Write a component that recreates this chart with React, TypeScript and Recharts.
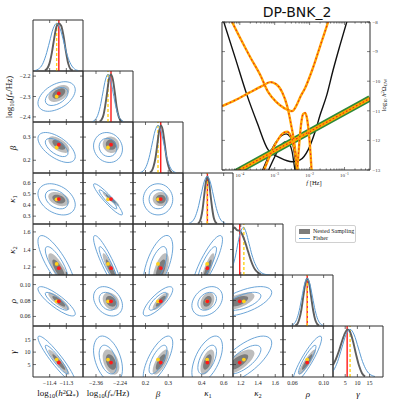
import React from "react";
import { ScatterChart, Scatter, XAxis, YAxis, ReferenceLine } from "recharts";

// parameter order: log10(h²Ω*), log10(f*/Hz), β, κ1, κ2, ρ, γ
const TRUE_VALUES = [-11.345, -2.285, 0.267, 0.452, 1.188, 0.079, 5.8];
const FISHER_VALUES = [-11.358, -2.3, 0.255, 0.45, 1.236, 0.079, 7.0];
const RANGES = [
  [-11.5, -11.2], [-2.425, -2.175], [0.145, 0.365], [0.23, 0.685], [1.11, 1.69], [0.048, 0.112], [0, 20.5],
];
const X_TICKS = [[-11.4, -11.3], [-2.36, -2.24], [0.2, 0.3], [0.4, 0.6], [1.2, 1.4, 1.6], [0.06, 0.1], [5, 10, 15]];
const Y_TICKS = [[], [-2.4, -2.3, -2.2], [0.2, 0.3], [0.3, 0.4, 0.5, 0.6], [1.2, 1.4, 1.6], [0.06, 0.08, 0.1], [5, 10, 15]];
const X_DECIMALS = [1, 2, 1, 1, 1, 2, 0];
const Y_DECIMALS = [1, 1, 1, 1, 1, 2, 0];
const MARGINAL_RANGE = [0, 1.07];

const PAIRS = [
  [0, 1], [0, 2], [0, 3], [0, 4], [0, 5], [0, 6], [1, 2], [1, 3], [1, 4], [1, 5], [1, 6],
  [2, 3], [2, 4], [2, 5], [2, 6], [3, 4], [3, 5], [3, 6], [4, 5], [4, 6], [5, 6],
];

// contour outlines (control points), same order as PAIRS
const FISHER_INNER = [
  [[-11.276, -2.276], [-11.317, -2.247], [-11.399, -2.271], [-11.44, -2.324], [-11.399, -2.353], [-11.317, -2.329]],
  [[-11.276, 0.227], [-11.317, 0.274], [-11.399, 0.302], [-11.44, 0.283], [-11.399, 0.236], [-11.317, 0.208]],
  [[-11.276, 0.414], [-11.317, 0.515], [-11.399, 0.551], [-11.44, 0.486], [-11.399, 0.385], [-11.317, 0.349]],
  [[-11.276, 1.046], [-11.317, 1.265], [-11.399, 1.454], [-11.44, 1.426], [-11.399, 1.208], [-11.317, 1.018]],
  [[-11.276, 0.0675], [-11.317, 0.0795], [-11.399, 0.0909], [-11.44, 0.0905], [-11.399, 0.0785], [-11.317, 0.0671]],
  [[-11.276, 0.56], [-11.317, 5.99], [-11.399, 12.43], [-11.44, 13.45], [-11.399, 8.01], [-11.317, 1.57]],
  [[-2.247, 0.25], [-2.274, 0.294], [-2.327, 0.298], [-2.353, 0.26], [-2.327, 0.217], [-2.274, 0.212]],
  [[-2.247, 0.355], [-2.274, 0.435], [-2.327, 0.53], [-2.353, 0.545], [-2.327, 0.465], [-2.274, 0.37]],
  [[-2.247, 1.023], [-2.274, 1.219], [-2.327, 1.432], [-2.353, 1.449], [-2.327, 1.253], [-2.274, 1.04]],
  [[-2.247, 0.0749], [-2.274, 0.0882], [-2.327, 0.0922], [-2.353, 0.0831], [-2.327, 0.0698], [-2.274, 0.0658]],
  [[-2.247, 4.23], [-2.274, 11.12], [-2.327, 13.9], [-2.353, 9.77], [-2.327, 2.88], [-2.274, 0.11]],
  [[0.302, 0.45], [0.279, 0.539], [0.231, 0.539], [0.208, 0.45], [0.231, 0.362], [0.279, 0.362]],
  [[0.302, 1.378], [0.279, 1.472], [0.231, 1.329], [0.208, 1.094], [0.231, 1.0], [0.279, 1.143]],
  [[0.302, 0.0898], [0.279, 0.0914], [0.231, 0.0806], [0.208, 0.0682], [0.231, 0.0666], [0.279, 0.0774]],
  [[0.302, 11.85], [0.279, 13.72], [0.231, 8.86], [0.208, 2.15], [0.231, 0.28], [0.279, 5.14]],
  [[0.552, 1.438], [0.501, 1.445], [0.399, 1.244], [0.348, 1.035], [0.399, 1.027], [0.501, 1.228]],
  [[0.552, 0.0831], [0.501, 0.0922], [0.399, 0.0882], [0.348, 0.0749], [0.399, 0.0658], [0.501, 0.0698]],
  [[0.552, 10.81], [0.501, 13.92], [0.399, 10.11], [0.348, 3.19], [0.399, 0.08], [0.501, 3.89]],
  [[1.473, 0.0871], [1.355, 0.0925], [1.117, 0.0843], [0.999, 0.0709], [1.117, 0.0655], [1.355, 0.0737]],
  [[1.473, 11.85], [1.355, 13.72], [1.117, 8.86], [0.999, 2.15], [1.117, 0.28], [1.355, 5.14]],
  [[0.0925, 13.24], [0.0858, 12.74], [0.0722, 6.5], [0.0655, 0.76], [0.0722, 1.26], [0.0858, 7.5]],
];

const FISHER_OUTER = [
  [[-11.224, -2.261], [-11.291, -2.213], [-11.425, -2.252], [-11.493, -2.339], [-11.425, -2.387], [-11.291, -2.348]],
  [[-11.224, 0.208], [-11.291, 0.286], [-11.425, 0.332], [-11.493, 0.302], [-11.425, 0.225], [-11.291, 0.178]],
  [[-11.224, 0.391], [-11.291, 0.557], [-11.425, 0.615], [-11.493, 0.509], [-11.425, 0.343], [-11.291, 0.285]],
  [[-11.224, 0.925], [-11.291, 1.283], [-11.425, 1.593], [-11.493, 1.547], [-11.425, 1.189], [-11.291, 0.879]],
  [[-11.224, 0.0602], [-11.291, 0.0797], [-11.425, 0.0985], [-11.493, 0.0978], [-11.425, 0.0783], [-11.291, 0.0595]],
  [[-11.224, -3.56], [-11.291, 5.34], [-11.425, 15.9], [-11.493, 17.56], [-11.425, 8.66], [-11.291, -1.9]],
  [[-2.213, 0.247], [-2.257, 0.318], [-2.343, 0.326], [-2.387, 0.263], [-2.343, 0.192], [-2.257, 0.184]],
  [[-2.213, 0.294], [-2.257, 0.426], [-2.343, 0.581], [-2.387, 0.606], [-2.343, 0.474], [-2.257, 0.319]],
  [[-2.213, 0.886], [-2.257, 1.208], [-2.343, 1.558], [-2.387, 1.586], [-2.343, 1.264], [-2.257, 0.914]],
  [[-2.213, 0.0724], [-2.257, 0.094], [-2.343, 0.1006], [-2.387, 0.0856], [-2.343, 0.064], [-2.257, 0.0574]],
  [[-2.213, 2.46], [-2.257, 13.76], [-2.343, 18.3], [-2.387, 11.54], [-2.343, 0.25], [-2.257, -4.3]],
  [[0.333, 0.45], [0.294, 0.595], [0.216, 0.595], [0.177, 0.45], [0.216, 0.305], [0.294, 0.305]],
  [[0.333, 1.469], [0.294, 1.622], [0.216, 1.389], [0.177, 1.003], [0.216, 0.85], [0.294, 1.083]],
  [[0.333, 0.0967], [0.294, 0.0993], [0.216, 0.0817], [0.177, 0.0613], [0.216, 0.0587], [0.294, 0.0763]],
  [[0.333, 14.95], [0.294, 18.0], [0.216, 10.05], [0.177, -0.95], [0.216, -4.0], [0.294, 3.95]],
  [[0.617, 1.566], [0.534, 1.579], [0.366, 1.248], [0.283, 0.906], [0.366, 0.894], [0.534, 1.224]],
  [[0.617, 0.0856], [0.534, 0.1006], [0.366, 0.094], [0.283, 0.0724], [0.366, 0.0574], [0.534, 0.064]],
  [[0.617, 13.24], [0.534, 18.34], [0.366, 12.1], [0.283, 0.76], [0.366, -4.34], [0.534, 1.9]],
  [[1.624, 0.0923], [1.43, 0.101], [1.042, 0.0878], [0.848, 0.0657], [1.042, 0.057], [1.43, 0.0702]],
  [[1.624, 14.95], [1.43, 18.0], [1.042, 10.05], [0.848, -0.95], [1.042, -4.0], [1.43, 3.95]],
  [[0.1011, 17.22], [0.0901, 16.4], [0.0679, 6.18], [0.0569, -3.22], [0.0679, -2.4], [0.0901, 7.82]],
];

const NESTED_DARK = [
  [[-11.298, -2.271], [-11.322, -2.254], [-11.368, -2.268], [-11.392, -2.299], [-11.368, -2.316], [-11.322, -2.302]],
  [[-11.298, 0.251], [-11.322, 0.277], [-11.368, 0.293], [-11.392, 0.283], [-11.368, 0.257], [-11.322, 0.241]],
  [[-11.298, 0.436], [-11.322, 0.482], [-11.368, 0.498], [-11.392, 0.468], [-11.368, 0.422], [-11.322, 0.406]],
  [[-11.298, 1.058], [-11.322, 1.187], [-11.368, 1.299], [-11.392, 1.282], [-11.368, 1.153], [-11.322, 1.041]],
  [[-11.298, 0.0721], [-11.322, 0.0793], [-11.368, 0.0861], [-11.392, 0.0859], [-11.368, 0.0787], [-11.322, 0.0719]],
  [[-11.298, 2.52], [-11.322, 5.45], [-11.368, 8.94], [-11.392, 9.48], [-11.368, 6.55], [-11.322, 3.07]],
  [[-2.254, 0.264], [-2.269, 0.289], [-2.301, 0.291], [-2.316, 0.27], [-2.301, 0.245], [-2.269, 0.243]],
  [[-2.254, 0.409], [-2.269, 0.445], [-2.301, 0.489], [-2.316, 0.496], [-2.301, 0.459], [-2.269, 0.415]],
  [[-2.254, 1.044], [-2.269, 1.16], [-2.301, 1.286], [-2.316, 1.296], [-2.301, 1.18], [-2.269, 1.054]],
  [[-2.254, 0.0766], [-2.269, 0.0845], [-2.301, 0.0869], [-2.316, 0.0814], [-2.301, 0.0735], [-2.269, 0.0711]],
  [[-2.254, 4.5], [-2.269, 8.23], [-2.301, 9.73], [-2.316, 7.5], [-2.301, 3.77], [-2.269, 2.28]],
  [[0.294, 0.452], [0.28, 0.493], [0.254, 0.493], [0.241, 0.452], [0.254, 0.411], [0.28, 0.411]],
  [[0.294, 1.254], [0.28, 1.31], [0.254, 1.225], [0.241, 1.086], [0.254, 1.031], [0.28, 1.115]],
  [[0.294, 0.0855], [0.28, 0.0864], [0.254, 0.08], [0.241, 0.0725], [0.254, 0.0716], [0.28, 0.078]],
  [[0.294, 8.62], [0.28, 9.63], [0.254, 7.01], [0.241, 3.38], [0.254, 2.37], [0.28, 4.99]],
  [[0.499, 1.289], [0.475, 1.294], [0.429, 1.174], [0.405, 1.051], [0.429, 1.046], [0.475, 1.166]],
  [[0.499, 0.0814], [0.475, 0.0869], [0.429, 0.0845], [0.405, 0.0766], [0.429, 0.0711], [0.475, 0.0735]],
  [[0.499, 8.06], [0.475, 9.74], [0.429, 7.68], [0.405, 3.94], [0.429, 2.26], [0.475, 4.32]],
  [[1.31, 0.0839], [1.24, 0.087], [1.1, 0.0822], [1.03, 0.0741], [1.1, 0.071], [1.24, 0.0758]],
  [[1.31, 8.62], [1.24, 9.63], [1.1, 7.01], [1.03, 3.38], [1.1, 2.37], [1.24, 4.99]],
  [[0.0871, 9.37], [0.0831, 9.1], [0.0749, 5.73], [0.0709, 2.63], [0.0749, 2.9], [0.0831, 6.27]],
];

const NESTED_LIGHT = [
  [[-11.269, -2.262], [-11.307, -2.235], [-11.383, -2.257], [-11.421, -2.308], [-11.383, -2.335], [-11.307, -2.313]],
  [[-11.269, 0.241], [-11.307, 0.284], [-11.383, 0.31], [-11.421, 0.293], [-11.383, 0.25], [-11.307, 0.225]],
  [[-11.269, 0.426], [-11.307, 0.5], [-11.383, 0.527], [-11.421, 0.479], [-11.383, 0.404], [-11.307, 0.377]],
  [[-11.269, 0.989], [-11.307, 1.197], [-11.383, 1.379], [-11.421, 1.351], [-11.383, 1.143], [-11.307, 0.961]],
  [[-11.269, 0.0679], [-11.307, 0.0794], [-11.383, 0.0906], [-11.421, 0.0901], [-11.383, 0.0786], [-11.307, 0.0674]],
  [[-11.269, 0.38], [-11.307, 5.12], [-11.383, 10.74], [-11.421, 11.63], [-11.383, 6.88], [-11.307, 1.26]],
  [[-2.235, 0.263], [-2.26, 0.302], [-2.31, 0.306], [-2.335, 0.271], [-2.31, 0.232], [-2.26, 0.228]],
  [[-2.235, 0.382], [-2.26, 0.441], [-2.31, 0.511], [-2.335, 0.522], [-2.31, 0.463], [-2.26, 0.393]],
  [[-2.235, 0.966], [-2.26, 1.154], [-2.31, 1.358], [-2.335, 1.374], [-2.31, 1.186], [-2.26, 0.982]],
  [[-2.235, 0.0751], [-2.26, 0.0879], [-2.31, 0.0919], [-2.335, 0.0829], [-2.31, 0.0701], [-2.26, 0.0661]],
  [[-2.235, 3.58], [-2.26, 9.6], [-2.31, 12.02], [-2.335, 8.42], [-2.31, 2.4], [-2.26, -0.02]],
  [[0.31, 0.452], [0.288, 0.518], [0.246, 0.518], [0.224, 0.452], [0.246, 0.387], [0.288, 0.387]],
  [[0.31, 1.306], [0.288, 1.395], [0.246, 1.259], [0.224, 1.034], [0.246, 0.945], [0.288, 1.081]],
  [[0.31, 0.0895], [0.288, 0.091], [0.246, 0.0806], [0.224, 0.0685], [0.246, 0.067], [0.288, 0.0774]],
  [[0.31, 10.23], [0.288, 11.86], [0.246, 7.63], [0.224, 1.77], [0.246, 0.14], [0.288, 4.37]],
  [[0.528, 1.363], [0.49, 1.37], [0.414, 1.177], [0.376, 0.977], [0.414, 0.97], [0.49, 1.163]],
  [[0.528, 0.0829], [0.49, 0.0919], [0.414, 0.0879], [0.376, 0.0751], [0.414, 0.0661], [0.49, 0.0701]],
  [[0.528, 9.33], [0.49, 12.04], [0.414, 8.71], [0.376, 2.67], [0.414, -0.04], [0.49, 3.29]],
  [[1.397, 0.0869], [1.283, 0.092], [1.057, 0.0842], [0.943, 0.0711], [1.057, 0.066], [1.283, 0.0738]],
  [[1.397, 10.23], [1.283, 11.86], [1.057, 7.63], [0.943, 1.77], [1.057, 0.14], [1.283, 4.37]],
  [[0.0921, 11.44], [0.0856, 11.01], [0.0724, 5.56], [0.0659, 0.56], [0.0724, 0.99], [0.0856, 6.44]],
];

// 1D marginals, peak normalised to 1
const FISHER_MARGINALS = [
  [[-11.487, 0.011], [-11.466, 0.044], [-11.444, 0.135], [-11.423, 0.325], [-11.401, 0.607], [-11.38, 0.882], [-11.358, 1], [-11.337, 0.882], [-11.315, 0.607], [-11.294, 0.325], [-11.272, 0.135], [-11.251, 0.044], [-11.229, 0.011]],
  [[-2.378, 0.011], [-2.365, 0.044], [-2.352, 0.135], [-2.339, 0.325], [-2.326, 0.607], [-2.313, 0.882], [-2.3, 1], [-2.287, 0.882], [-2.274, 0.607], [-2.261, 0.325], [-2.248, 0.135], [-2.235, 0.044], [-2.222, 0.011]],
  [[0.177, 0.011], [0.19, 0.044], [0.203, 0.135], [0.216, 0.325], [0.229, 0.607], [0.242, 0.882], [0.255, 1], [0.268, 0.882], [0.281, 0.607], [0.294, 0.325], [0.307, 0.135], [0.32, 0.044], [0.333, 0.011]],
  [[0.282, 0.011], [0.31, 0.044], [0.338, 0.135], [0.366, 0.325], [0.394, 0.607], [0.422, 0.882], [0.45, 1], [0.478, 0.882], [0.506, 0.607], [0.534, 0.325], [0.562, 0.135], [0.59, 0.044], [0.618, 0.011]],
  [[1.11, 0.2], [1.139, 0.4], [1.168, 0.68], [1.197, 0.9], [1.232, 1], [1.261, 0.9], [1.296, 0.66], [1.33, 0.42], [1.365, 0.24], [1.4, 0.12], [1.446, 0.04], [1.493, 0.01], [1.539, 0]],
  [[0.0586, 0.011], [0.062, 0.044], [0.0654, 0.135], [0.0688, 0.325], [0.0722, 0.607], [0.0756, 0.882], [0.079, 1], [0.0824, 0.882], [0.0858, 0.607], [0.0892, 0.325], [0.0926, 0.135], [0.096, 0.044], [0.0994, 0.011]],
  [[-3.2, 0.011], [-1.5, 0.044], [0.2, 0.135], [1.9, 0.325], [3.6, 0.607], [5.3, 0.882], [7, 1], [8.7, 0.882], [10.4, 0.607], [12.1, 0.325], [13.8, 0.135], [15.5, 0.044], [17.2, 0.011]],
];

const NESTED_MARGINALS = [
  [[-11.429, 0.01], [-11.415, 0.05], [-11.401, 0.16], [-11.387, 0.38], [-11.373, 0.68], [-11.359, 0.93], [-11.345, 1], [-11.331, 0.95], [-11.317, 0.74], [-11.303, 0.42], [-11.289, 0.16], [-11.275, 0.04], [-11.261, 0.01]],
  [[-2.342, 0.01], [-2.333, 0.04], [-2.323, 0.14], [-2.314, 0.34], [-2.304, 0.63], [-2.295, 0.9], [-2.285, 1], [-2.276, 0.9], [-2.266, 0.62], [-2.257, 0.32], [-2.247, 0.12], [-2.238, 0.04], [-2.228, 0.01]],
  [[0.219, 0.01], [0.227, 0.04], [0.235, 0.13], [0.244, 0.32], [0.252, 0.6], [0.26, 0.88], [0.268, 1], [0.276, 0.9], [0.284, 0.63], [0.292, 0.34], [0.301, 0.14], [0.309, 0.04], [0.317, 0.01]],
  [[0.365, 0.01], [0.38, 0.04], [0.394, 0.13], [0.409, 0.32], [0.423, 0.6], [0.438, 0.88], [0.452, 1], [0.467, 0.88], [0.481, 0.6], [0.496, 0.32], [0.51, 0.13], [0.525, 0.04], [0.539, 0.01]],
  [[1.11, 0.95], [1.127, 1], [1.156, 0.94], [1.185, 0.93], [1.214, 0.86], [1.249, 0.7], [1.284, 0.5], [1.319, 0.3], [1.354, 0.15], [1.388, 0.07], [1.435, 0.01]],
  [[0.0637, 0.01], [0.0663, 0.04], [0.0688, 0.14], [0.0714, 0.33], [0.0739, 0.61], [0.0765, 0.88], [0.079, 1], [0.0816, 0.88], [0.0841, 0.6], [0.0867, 0.32], [0.0892, 0.13], [0.0918, 0.04], [0.0943, 0.01]],
  [[0, 0.25], [1.23, 0.38], [2.46, 0.55], [3.69, 0.75], [4.92, 0.92], [5.95, 1], [6.97, 0.95], [8.2, 0.75], [9.43, 0.48], [10.66, 0.24], [11.89, 0.08], [13.12, 0.01]],
];

// inset: log10 f [Hz] vs log10 h²Ω_GW
const INSET_X_RANGE = [-4.51, -0.27];
const INSET_Y_RANGE = [-13, -8];
const INSET_DECADES = [-4, -3, -2, -1];
const INSET_Y_TICKS = [-13, -12, -11, -10, -9, -8];
const LOG_MANTISSAS = [0.301, 0.477, 0.602, 0.699, 0.778, 0.845, 0.903, 0.954];
const SENSITIVITY = [
  [-4.529, -7.74], [-4.129, -9.22], [-3.794, -10.47], [-3.5, -11.41], [-3.186, -12.32], [-2.843, -12.59], [-2.5, -12.72],
  [-2.271, -12.66], [-2.043, -12.32], [-1.843, -11.71], [-1.7, -11.14], [-1.509, -10.47], [-1.329, -9.63], [-1.129, -8.78], [-0.871, -7.74],
];
const BLACK_ARCH_A = [[-3.357, -13.03], [-3.186, -12.56], [-2.986, -12.09], [-2.814, -11.85], [-2.671, -11.78], [-2.557, -11.88], [-2.471, -12.19], [-2.414, -12.66], [-2.386, -13.03]];
const BLACK_ARCH_B = [[-3.186, -13.03], [-3.014, -12.59], [-2.843, -12.22], [-2.7, -12.05], [-2.586, -12.12], [-2.5, -12.39], [-2.443, -12.83], [-2.414, -13.06]];
const SIGNAL_V = [
  [-4.329, -7.74], [-3.986, -8.55], [-3.7, -9.19], [-3.414, -9.79], [-3.186, -10.37], [-2.957, -10.7], [-2.729, -10.91], [-2.5, -11.01],
  [-2.357, -10.77], [-2.271, -10.54], [-2.129, -10.23], [-1.929, -9.63], [-1.7, -8.82], [-1.471, -8.0], [-1.386, -7.67],
];
const SIGNAL_HUMP = [[-4.509, -10.84], [-4.129, -10.64], [-3.7, -10.37], [-3.357, -10.16], [-3.129, -10.03], [-2.957, -10.1], [-2.786, -10.37], [-2.643, -10.84], [-2.529, -11.48], [-2.443, -12.05], [-2.386, -12.59], [-2.343, -13.06]];
const SIGNAL_BUMP = [[-3.3, -12.99], [-3.129, -12.49], [-2.929, -12.02], [-2.786, -11.78], [-2.643, -11.71], [-2.529, -11.88], [-2.443, -12.22], [-2.386, -12.66], [-2.357, -13.03]];
const SIGNAL_PEAK = [[-2.357, -13.03], [-2.3, -12.15], [-2.243, -11.44], [-2.186, -11.11], [-2.129, -11.07], [-2.071, -11.28], [-2.014, -11.85], [-1.971, -12.49], [-1.943, -13.03]];
const POWER_LAW = [[-4.2, -13.13], [-0.27, -10.58]];

// ---------- styling ----------
const X0 = 33, Y0 = 20, CW = 50, CH = 51, PAD = 18;
const INK = "#2e2e2e";
const BLUE = "#5b9bd3";
const SERIF = "Liberation Serif, DejaVu Serif, serif";
const RED = "#ff1a1a";
const YELLOW = "#ffd21a";
const SUB = { fontSize: "0.7em", verticalAlign: "-0.3em" };
const SUP = { fontSize: "0.7em", verticalAlign: "0.45em" };

const toXY = (pts: number[][]) => pts.map(([x, y]) => ({ x, y }));
const fmt = (d: number) => (v: number) => v.toFixed(d).replace("-", "\u2212");

function Empty() {
  return <g />;
}
const RedDot = (p: any) => <circle cx={p.cx} cy={p.cy} r={1.9} fill={RED} />;
const YellowDot = (p: any) => <circle cx={p.cx} cy={p.cy} r={1.9} fill={YELLOW} />;

function tickRenderer(side: string, format?: (v: number) => string, len = 3) {
  return (props: any) => {
    const { x, y, payload } = props;
    let line;
    if (side === "bottom") line = <line x1={x} y1={y} x2={x} y2={y - len} />;
    else if (side === "top") line = <line x1={x} y1={y} x2={x} y2={y + len} />;
    else if (side === "left") line = <line x1={x} y1={y} x2={x + len} y2={y} />;
    else line = <line x1={x} y1={y} x2={x - len} y2={y} />;
    let label = null;
    if (format) {
      const t = format(payload.value);
      const common = { fontSize: 6, fontFamily: SERIF, fill: "#222", stroke: "none" };
      if (side === "bottom") label = <text x={x} y={y + 8} textAnchor="middle" {...common}>{t}</text>;
      else if (side === "left") label = <text x={x - 2.5} y={y + 2} textAnchor="end" {...common}>{t}</text>;
      else if (side === "right") label = <text x={x + 2.5} y={y + 2} textAnchor="start" {...common}>{t}</text>;
    }
    return (
      <g stroke={INK} strokeWidth={0.7}>
        {line}
        {label}
      </g>
    );
  };
}

const AXIS_COMMON = {
  type: "number" as const, allowDataOverflow: true, interval: 0 as const, tickLine: false,
  tickSize: 0, tickMargin: 0, axisLine: { stroke: INK, strokeWidth: 1 },
};

// frame, ticks and tick labels of one panel (drawn on top, unclipped)
function frameAxes(xk: number, yk: number | null, showX: boolean, showY: boolean) {
  const xd = RANGES[xk];
  const axes = [
    <XAxis key="xb" xAxisId="b" dataKey="x" domain={xd} ticks={X_TICKS[xk]} height={1} tick={tickRenderer("bottom", showX ? fmt(X_DECIMALS[xk]) : undefined)} {...AXIS_COMMON} />,
    <XAxis key="xt" xAxisId="t" orientation="top" dataKey="x" domain={xd} ticks={X_TICKS[xk]} height={1} tick={tickRenderer("top")} {...AXIS_COMMON} />,
  ];
  if (yk === null) {
    axes.push(
      <YAxis key="yl" yAxisId="l" dataKey="y" domain={MARGINAL_RANGE} ticks={[0]} width={1} tick={false} {...AXIS_COMMON} />,
      <YAxis key="yr" yAxisId="r" orientation="right" dataKey="y" domain={MARGINAL_RANGE} ticks={[0]} width={1} tick={false} {...AXIS_COMMON} />,
    );
  } else {
    const yd = RANGES[yk];
    axes.push(
      <YAxis key="yl" yAxisId="l" dataKey="y" domain={yd} ticks={Y_TICKS[yk]} width={1} tick={tickRenderer("left", showY ? fmt(Y_DECIMALS[yk]) : undefined)} {...AXIS_COMMON} />,
      <YAxis key="yr" yAxisId="r" orientation="right" dataKey="y" domain={yd} ticks={Y_TICKS[yk]} width={1} tick={tickRenderer("right")} {...AXIS_COMMON} />,
    );
  }
  return axes;
}

const M = PAD - 1;
const FRAME_CHART = { width: CW + 2 * PAD, height: CH + 2 * PAD, margin: { top: M, right: M, bottom: M, left: M } };
const NO_MARGIN = { top: 0, right: 0, bottom: 0, left: 0 };

// one panel = a data chart clipped to the panel box + an overlay frame chart
function Panel({ col, row, yk, children }: { col: number; row: number; yk: number | null; children: React.ReactNode }) {
  const yDomain = yk === null ? MARGINAL_RANGE : RANGES[yk];
  return (
    <>
      <div style={{ position: "absolute", left: X0 + col * CW, top: Y0 + row * CH, width: CW, height: CH, overflow: "hidden" }}>
        <ScatterChart width={CW} height={CH} margin={NO_MARGIN}>
          <XAxis xAxisId="b" hide type="number" dataKey="x" domain={RANGES[col]} allowDataOverflow />
          <YAxis yAxisId="l" hide type="number" dataKey="y" domain={yDomain} allowDataOverflow />
          {children}
        </ScatterChart>
      </div>
      <div style={{ position: "absolute", left: X0 + col * CW - PAD, top: Y0 + row * CH - PAD }}>
        <ScatterChart {...FRAME_CHART}>{frameAxes(col, yk, row === 6, col === 0)}</ScatterChart>
      </div>
    </>
  );
}

function DiagonalCell({ k }: { k: number }) {
  return (
    <Panel col={k} row={k} yk={null}>
      <Scatter xAxisId="b" yAxisId="l" data={toXY(NESTED_MARGINALS[k])} line={{ stroke: "#5e5e5e", strokeWidth: 1.9 }} lineJointType="monotoneX" shape={Empty} isAnimationActive={false} />
      <Scatter xAxisId="b" yAxisId="l" data={toXY(FISHER_MARGINALS[k])} line={{ stroke: BLUE, strokeWidth: 1 }} lineJointType="monotoneX" shape={Empty} isAnimationActive={false} />
      <ReferenceLine xAxisId="b" yAxisId="l" x={TRUE_VALUES[k]} stroke={RED} strokeWidth={1.4} />
      <ReferenceLine xAxisId="b" yAxisId="l" x={FISHER_VALUES[k]} stroke={YELLOW} strokeWidth={1.4} strokeDasharray="3 2" />
    </Panel>
  );
}

function PairCell({ idx }: { idx: number }) {
  const [i, j] = PAIRS[idx];
  return (
    <Panel col={i} row={j} yk={j}>
      <Scatter xAxisId="b" yAxisId="l" data={toXY(NESTED_LIGHT[idx])} line={{ fill: "#bdbdbd", stroke: "none" }} lineJointType="basisClosed" shape={Empty} isAnimationActive={false} />
      <Scatter xAxisId="b" yAxisId="l" data={toXY(NESTED_DARK[idx])} line={{ fill: "#7c7c7c", stroke: "none" }} lineJointType="basisClosed" shape={Empty} isAnimationActive={false} />
      <Scatter xAxisId="b" yAxisId="l" data={toXY(FISHER_OUTER[idx])} line={{ fill: "none", stroke: BLUE, strokeWidth: 0.9 }} lineJointType="basisClosed" shape={Empty} isAnimationActive={false} />
      <Scatter xAxisId="b" yAxisId="l" data={toXY(FISHER_INNER[idx])} line={{ fill: "none", stroke: BLUE, strokeWidth: 0.9 }} lineJointType="basisClosed" shape={Empty} isAnimationActive={false} />
      <Scatter xAxisId="b" yAxisId="l" data={[{ x: FISHER_VALUES[i], y: FISHER_VALUES[j] }]} shape={YellowDot} isAnimationActive={false} />
      <Scatter xAxisId="b" yAxisId="l" data={[{ x: TRUE_VALUES[i], y: TRUE_VALUES[j] }]} shape={RedDot} isAnimationActive={false} />
    </Panel>
  );
}

function insetTick(side: string) {
  return (props: any) => {
    const { x, y, payload } = props;
    const v = payload.value;
    const major = Math.abs(v - Math.round(v)) < 1e-6;
    const len = major ? 3 : 1.6;
    const txt = { fontSize: 5, fontFamily: SERIF, fill: "#333", stroke: "none" };
    if (side === "bottom")
      return (
        <g stroke={INK} strokeWidth={0.6}>
          <line x1={x} y1={y} x2={x} y2={y - len} />
          {major && (
            <text x={x} y={y + 6.5} textAnchor="middle" {...txt}>
              10<tspan dy={-2} fontSize={3.6}>{"\u2212" + Math.abs(v)}</tspan>
            </text>
          )}
        </g>
      );
    if (side === "top") return <line x1={x} y1={y} x2={x} y2={y + len} stroke={INK} strokeWidth={0.6} />;
    if (side === "left") return <line x1={x} y1={y} x2={x + len} y2={y} stroke={INK} strokeWidth={0.6} />;
    return (
      <g stroke={INK} strokeWidth={0.6}>
        <line x1={x} y1={y} x2={x - len} y2={y} />
        <text x={x + 2.5} y={y + 1.8} textAnchor="start" {...txt}>{"\u2212" + Math.abs(v)}</text>
      </g>
    );
  };
}

const IX = 222, IY = 22, IW = 148, IH = 148;

function Inset() {
  const minor: number[] = [];
  for (let d = -5; d <= -1; d++) for (const m of LOG_MANTISSAS) if (d + m > INSET_X_RANGE[0] && d + m < INSET_X_RANGE[1]) minor.push(d + m);
  const xTicks = [...INSET_DECADES, ...minor].sort((a, b) => a - b);
  const curve = (key: string, pts: number[][], stroke: string, width: number, dash?: string, joint = "monotoneX") => (
    <Scatter key={key} xAxisId="b" yAxisId="l" data={toXY(pts)} line={{ stroke, strokeWidth: width, strokeDasharray: dash, fill: "none" }} lineJointType={joint as any} shape={Empty} isAnimationActive={false} />
  );
  const signal = (key: string, pts: number[][]) => [curve(key + "o", pts, "#ffa800", 2.4), curve(key + "r", pts, "#e5261c", 1.1, "1.6 2.6")];
  return (
    <>
      <div style={{ position: "absolute", left: IX, top: IY, width: IW, height: IH, overflow: "hidden" }}>
        <ScatterChart width={IW} height={IH} margin={NO_MARGIN}>
          <XAxis xAxisId="b" hide type="number" dataKey="x" domain={INSET_X_RANGE} allowDataOverflow />
          <YAxis yAxisId="l" hide type="number" dataKey="y" domain={INSET_Y_RANGE} allowDataOverflow />
          {curve("s", SENSITIVITY, "#111", 1.4)}
          {curve("ba", BLACK_ARCH_A, "#111", 1.3)}
          {curve("bb", BLACK_ARCH_B, "#111", 1.3)}
          {curve("pg", POWER_LAW, "#2f8a37", 6.5, undefined, "linear")}
          {curve("po", POWER_LAW, "#ffa800", 3.4, undefined, "linear")}
          {curve("pr", POWER_LAW, "#e5261c", 1.1, "1.6 2.2", "linear")}
          {signal("v", SIGNAL_V)}
          {signal("h", SIGNAL_HUMP)}
          {signal("b", SIGNAL_BUMP)}
          {signal("p", SIGNAL_PEAK)}
        </ScatterChart>
      </div>
      <div style={{ position: "absolute", left: IX - 12, top: IY - 12 }}>
        <ScatterChart width={IW + 34} height={IH + 26} margin={{ top: 11, right: 21, bottom: 13, left: 11 }}>
          <XAxis xAxisId="b" dataKey="x" domain={INSET_X_RANGE} ticks={xTicks} height={1} tick={insetTick("bottom")} {...AXIS_COMMON} />
          <XAxis xAxisId="t" orientation="top" dataKey="x" domain={INSET_X_RANGE} ticks={xTicks} height={1} tick={insetTick("top")} {...AXIS_COMMON} />
          <YAxis yAxisId="l" dataKey="y" domain={INSET_Y_RANGE} ticks={INSET_Y_TICKS} width={1} tick={insetTick("left")} {...AXIS_COMMON} />
          <YAxis yAxisId="r" orientation="right" dataKey="y" domain={INSET_Y_RANGE} ticks={INSET_Y_TICKS} width={1} tick={insetTick("right")} {...AXIS_COMMON} />
        </ScatterChart>
      </div>
    </>
  );
}

function Label({ x, y, vertical, size = 9, children }: { x: number; y: number; vertical?: boolean; size?: number; children: React.ReactNode }) {
  return (
    <div
      style={{
        position: "absolute", left: x, top: y, transform: `translate(-50%, -50%)${vertical ? " rotate(-90deg)" : ""}`,
        fontFamily: SERIF, fontSize: size, lineHeight: 1, whiteSpace: "nowrap", color: "#111",
      }}
    >
      {children}
    </div>
  );
}

const AXIS_TITLES = [
  <>log<span style={SUB}>10</span>(<i>h</i><span style={SUP}>2</span>Ω<span style={SUB}>*</span>)</>,
  <>log<span style={SUB}>10</span>(<i>f</i><span style={SUB}>*</span>/Hz)</>,
  <i>β</i>,
  <><i>κ</i><span style={SUB}>1</span></>,
  <><i>κ</i><span style={SUB}>2</span></>,
  <i>ρ</i>,
  <i>γ</i>,
];

export default function App() {
  return (
    <div style={{ position: "absolute", left: 0, top: 0, width: 399, height: 405, background: "#fff", overflow: "hidden" }}>
      {PAIRS.map((_, idx) => <PairCell key={`p${idx}`} idx={idx} />)}
      {[0, 1, 2, 3, 4, 5, 6].map((k) => <DiagonalCell key={`d${k}`} k={k} />)}
      <Inset />

      {AXIS_TITLES.map((t, k) => (
        <Label key={`bx${k}`} x={X0 + k * CW + CW / 2} y={394}>{t}</Label>
      ))}
      {AXIS_TITLES.slice(1).map((t, k) => (
        <Label key={`ly${k}`} x={k === 0 ? 10 : 13} y={Y0 + (k + 1) * CH + CH / 2} vertical>{t}</Label>
      ))}

      <div style={{ position: "absolute", left: 297, top: 12, transform: "translate(-50%, -50%)", fontFamily: "DejaVu Sans, sans-serif", fontSize: 14, color: "#111", whiteSpace: "nowrap" }}>
        DP-BNK_2
      </div>
      <Label x={314} y={183} size={6.5}><i>f</i> [Hz]</Label>
      <Label x={385} y={95} size={6.5} vertical>log<span style={SUB}>10</span> <i>h</i><span style={SUP}>2</span>Ω<span style={SUB}>GW</span></Label>

      <div style={{ position: "absolute", left: 295, top: 225, width: 61, height: 18, border: "0.6px solid #d0d0d0", borderRadius: 2, background: "rgba(255,255,255,0.9)", boxSizing: "border-box" }}>
        <div style={{ position: "absolute", left: 3, top: 3, width: 11, height: 4.5, background: "#7c7c7c" }} />
        <div style={{ position: "absolute", left: 17, top: 2, fontFamily: SERIF, fontSize: 6, lineHeight: "7px", color: "#222", whiteSpace: "nowrap" }}>Nested Sampling</div>
        <div style={{ position: "absolute", left: 3, top: 12, width: 11, height: 1, background: BLUE }} />
        <div style={{ position: "absolute", left: 17, top: 9, fontFamily: SERIF, fontSize: 6, lineHeight: "7px", color: "#222", whiteSpace: "nowrap" }}>Fisher</div>
      </div>
    </div>
  );
}
